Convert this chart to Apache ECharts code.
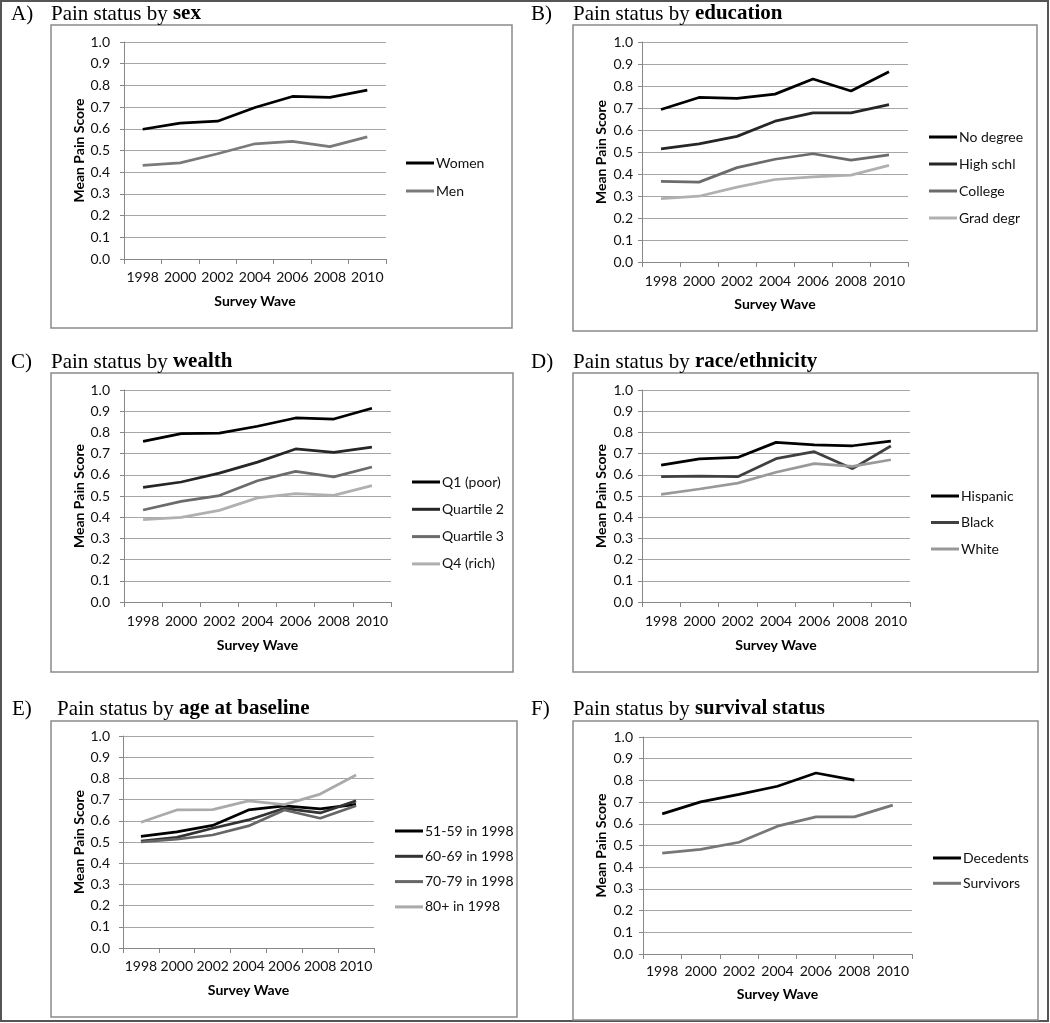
<!DOCTYPE html>
<html><head><meta charset="utf-8">
<script src="https://cdn.jsdelivr.net/npm/echarts@6/dist/echarts.min.js"></script>
<style>html,body{margin:0;padding:0;background:#fff}#c{width:1050px;height:1023px}</style>
</head><body><div id="c"></div>
<script>
// ---------- DATA ----------
const years = ['1998','2000','2002','2004','2006','2008','2010'];
const yTicks = [0,0.1,0.2,0.3,0.4,0.5,0.6,0.7,0.8,0.9,1.0];

// A) sex
const sexNames = ['Women','Men'];
const women = [0.598,0.626,0.635,0.698,0.749,0.745,0.778];
const men   = [0.431,0.443,0.485,0.531,0.542,0.518,0.563];

// B) education
const eduNames = ['No degree','High schl','College','Grad degr'];
const noDegree = [0.693,0.748,0.744,0.763,0.832,0.777,0.865];
const highSchl = [0.514,0.537,0.571,0.640,0.678,0.678,0.715];
const college  = [0.366,0.363,0.429,0.467,0.492,0.463,0.487];
const gradDegr = [0.288,0.299,0.340,0.375,0.387,0.395,0.439];

// C) wealth
const wealthNames = ['Q1 (poor)','Quartile 2','Quartile 3','Q4 (rich)'];
const q1 = [0.758,0.794,0.797,0.829,0.868,0.863,0.914];
const q2 = [0.541,0.566,0.608,0.660,0.722,0.706,0.731];
const q3 = [0.434,0.475,0.502,0.572,0.616,0.590,0.637];
const q4 = [0.388,0.399,0.432,0.491,0.511,0.503,0.549];

// D) race/ethnicity
const raceNames = ['Hispanic','Black','White'];
const hispanic = [0.646,0.675,0.682,0.753,0.741,0.737,0.759];
const black    = [0.591,0.594,0.591,0.676,0.709,0.629,0.736];
const white    = [0.508,0.533,0.561,0.612,0.653,0.640,0.671];

// E) age at baseline
const ageNames = ['51-59 in 1998','60-69 in 1998','70-79 in 1998','80+ in 1998'];
const age51 = [0.526,0.548,0.578,0.651,0.670,0.656,0.677];
const age60 = [0.504,0.522,0.565,0.604,0.659,0.637,0.694];
const age70 = [0.500,0.513,0.533,0.576,0.651,0.612,0.671];
const age80 = [0.593,0.651,0.653,0.694,0.676,0.726,0.816];

// F) survival status
const survNames = ['Decedents','Survivors'];
const decedents = [0.646,0.701,0.736,0.773,0.834,0.801,null];
const survivors = [0.465,0.482,0.515,0.589,0.632,0.632,0.686];

// ---------- LAYOUT / STYLE ----------
const FONT = 'Lato';
const panels = [
  {letter:'A)', title:'sex', names:sexNames, series:[women,men], colors:['#000','#7a7a7a'],
   lx:11, tx:51, ty:2, box:[51,25,461,303],
   grid:{left:124,top:42,width:262,height:217}, yMargin:14, xMargin:11, xNameGap:35, yNameGap:38,
   leg:{left:406,top:155,gap:12}},
  {letter:'B)', title:'education', names:eduNames, series:[noDegree,highSchl,college,gradDegr], colors:['#000','#262626','#6b6b6b','#b0b0b0'],
   lx:531, tx:573, ty:2, box:[573,25,464,306],
   grid:{left:642,top:42,width:266,height:220}, yMargin:9, xMargin:12, xNameGap:35, yNameGap:34,
   leg:{left:929,top:129,gap:11}},
  {letter:'C)', title:'wealth', names:wealthNames, series:[q1,q2,q3,q4], colors:['#000','#262626','#6b6b6b','#b0b0b0'],
   lx:11, tx:51, ty:350, box:[51,373,462,299],
   grid:{left:124,top:390,width:267,height:212}, yMargin:14, xMargin:12, xNameGap:36, yNameGap:38,
   leg:{left:412,top:474,gap:11.3}},
  {letter:'D)', title:'race/ethnicity', names:raceNames, series:[hispanic,black,white], colors:['#000','#404040','#999'],
   lx:531, tx:573, ty:350, box:[573,373,465,299],
   grid:{left:642,top:390,width:268,height:212}, yMargin:9, xMargin:12, xNameGap:36, yNameGap:34,
   leg:{left:931,top:488,gap:10.5}},
  {letter:'E)', title:'age at baseline', names:ageNames, series:[age51,age60,age70,age80], colors:['#000','#333','#666','#aaa'],
   lx:12, tx:57, ty:697, box:[51,721,466,296],
   grid:{left:123,top:736,width:251,height:212}, yMargin:13, xMargin:11, xNameGap:35, yNameGap:37,
   leg:{left:395,top:823,gap:9.3}},
  {letter:'F)', title:'survival status', names:survNames, series:[decedents,survivors], colors:['#000','#777'],
   lx:531, tx:573, ty:697, box:[573,721,465,299],
   grid:{left:643,top:737,width:269,height:217}, yMargin:10, xMargin:10, xNameGap:33, yNameGap:35,
   leg:{left:933,top:850,gap:9.3}}
];

const titles = [], grids = [], xAxes = [], yAxes = [], legends = [], series = [], graphics = [];

graphics.push({type:'rect', shape:{x:1,y:1,width:1047,height:1020}, style:{fill:'none', stroke:'#555', lineWidth:2}, silent:true});

panels.forEach((p, i) => {
  graphics.push({type:'rect', shape:{x:p.box[0],y:p.box[1],width:p.box[2],height:p.box[3]},
    style:{fill:'none', stroke:'#8a8a8a', lineWidth:1.5}, silent:true});
  titles.push({text:p.letter, left:p.lx, top:p.ty, padding:0,
    textStyle:{fontFamily:'Liberation Serif', fontSize:21, fontWeight:'normal', color:'#000', lineHeight:24}});
  titles.push({text:'{n|Pain status by }{b|' + p.title + '}', left:p.tx, top:p.ty, padding:0,
    textStyle:{rich:{
      n:{fontFamily:'Liberation Serif', fontSize:21, fontWeight:'normal', color:'#000', lineHeight:24},
      b:{fontFamily:'Liberation Serif', fontSize:21, fontWeight:'bold', color:'#000', lineHeight:24}}}});
  grids.push(Object.assign({containLabel:false}, p.grid));
  xAxes.push({type:'category', gridIndex:i, data:years, boundaryGap:true,
    axisLine:{lineStyle:{color:'#888', width:1}},
    axisTick:{show:true, length:5, lineStyle:{color:'#888'}},
    axisLabel:{margin:p.xMargin, fontFamily:FONT, fontSize:14, color:'#111', interval:0},
    splitLine:{show:false},
    name:'Survey Wave', nameLocation:'middle', nameGap:p.xNameGap,
    nameTextStyle:{fontFamily:FONT, fontSize:14, fontWeight:'bold', color:'#000'}});
  yAxes.push({type:'value', gridIndex:i, min:yTicks[0], max:yTicks[yTicks.length-1], interval:0.1,
    axisLine:{show:true, lineStyle:{color:'#888', width:1}},
    axisTick:{show:true, length:4, lineStyle:{color:'#888'}},
    axisLabel:{margin:p.yMargin, fontFamily:FONT, fontSize:14, color:'#111', formatter:v => v.toFixed(1)},
    splitLine:{show:true, lineStyle:{color:'#a6a6a6', width:1}},
    name:'Mean Pain Score', nameLocation:'middle', nameGap:p.yNameGap, nameRotate:90,
    nameTextStyle:{fontFamily:FONT, fontSize:14, fontWeight:'bold', color:'#000'}});
  legends.push({data:p.names, orient:'vertical', left:p.leg.left, top:p.leg.top, itemGap:p.leg.gap,
    itemWidth:28, itemHeight:3, icon:'rect', padding:0, selectedMode:false,
    textStyle:{fontFamily:FONT, fontSize:14, color:'#111', lineHeight:16, padding:[0,0,0,-3]}});
  p.series.forEach((d, k) => {
    series.push({type:'line', name:p.names[k], xAxisIndex:i, yAxisIndex:i, data:d,
      symbol:'none', connectNulls:false, silent:true,
      lineStyle:{width:2.75, color:p.colors[k]}, itemStyle:{color:p.colors[k]}});
  });
});

const chart = echarts.init(document.getElementById('c'), null, {renderer:'canvas'});
chart.setOption({
  animation:false, backgroundColor:'#fff',
  title:titles, grid:grids, xAxis:xAxes, yAxis:yAxes, legend:legends, series:series, graphic:graphics
});
</script></body></html>
